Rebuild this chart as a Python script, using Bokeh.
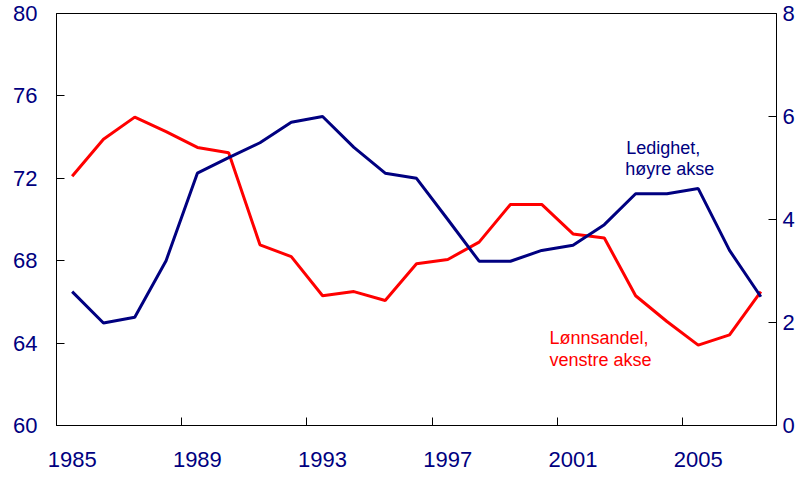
from bokeh.plotting import figure
from bokeh.models import LinearAxis, Range1d, FixedTicker, Label, ColumnDataSource
from bokeh.embed import file_html
from bokeh.resources import INLINE

years = list(range(1985, 2008))
lonnsandel = [72.1, 73.9, 74.97, 74.27, 73.5, 73.24, 68.77, 68.2, 66.3, 66.5, 66.07, 67.85,
              68.06, 68.9, 70.73, 70.73, 69.3, 69.1, 66.3, 65.05, 63.9, 64.4, 66.5]
ledighet = [2.6, 1.99, 2.1, 3.2, 4.9, 5.2, 5.49, 5.89, 6.0, 5.4, 4.9, 4.8,
            4.0, 3.19, 3.19, 3.4, 3.5, 3.9, 4.5, 4.5, 4.6, 3.4, 2.5]
x_labels = [1985, 1989, 1993, 1997, 2001, 2005]
x_tickmarks = [1988.5, 1992.5, 1996.5, 2000.5, 2004.5]
left_ticks = [60, 64, 68, 72, 76, 80]
right_ticks = [0, 2, 4, 6, 8]

FONT = "Liberation Sans"
NAVY = "#000080"
RED = "#FF0000"

src = ColumnDataSource(dict(year=years, lonn=lonnsandel, led=ledighet))

p = figure(frame_width=720, frame_height=412, output_backend="svg", toolbar_location=None,
           x_range=Range1d(1984.5, 2007.5), y_range=Range1d(60, 80),
           min_border_left=56, min_border_right=25, min_border_top=13, min_border_bottom=54,
           x_axis_type=None, y_axis_type=None)
p.extra_y_ranges = {"right": Range1d(0, 8)}
p.outline_line_color = "black"
p.outline_line_width = 1
p.xgrid.visible = False
p.ygrid.visible = False
p.background_fill_color = "white"
p.border_fill_color = "white"

def style(ax):
    ax.axis_line_color = "black"
    ax.axis_line_width = 1
    ax.major_label_text_font = FONT
    ax.major_label_text_font_size = "22px"
    ax.major_label_text_color = NAVY
    ax.major_tick_line_color = "black"
    ax.major_tick_in = 8
    ax.major_tick_out = 0
    ax.minor_tick_in = 0
    ax.minor_tick_out = 0

xa = LinearAxis(ticker=FixedTicker(ticks=x_labels, minor_ticks=x_tickmarks))
style(xa)
xa.major_tick_line_color = None
xa.minor_tick_line_color = "black"
xa.minor_tick_in = 8
xa.minor_tick_out = 0
xa.major_label_standoff = 26
p.add_layout(xa, "below")

ya = LinearAxis(ticker=FixedTicker(ticks=left_ticks))
style(ya)
ya.major_label_standoff = 19
p.add_layout(ya, "left")

yr = LinearAxis(y_range_name="right", ticker=FixedTicker(ticks=right_ticks))
style(yr)
yr.major_label_standoff = 6
p.add_layout(yr, "right")

p.line("year", "lonn", source=src, line_color=RED, line_width=3)
p.line("year", "led", source=src, y_range_name="right", line_color=NAVY, line_width=3)

for txt, x, y, col in [("Ledighet,", 2002.7, 73.45, NAVY), ("høyre akse", 2002.67, 72.43, NAVY),
                       ("Lønnsandel,", 2000.25, 64.27, RED), ("venstre akse", 2000.25, 63.2, RED)]:
    p.add_layout(Label(x=x, y=y, text=txt, text_font=FONT, text_font_size="18px",
                       text_color=col, text_align="left", text_baseline="alphabetic"))

open("out.html", "w").write(file_html(p, INLINE))
